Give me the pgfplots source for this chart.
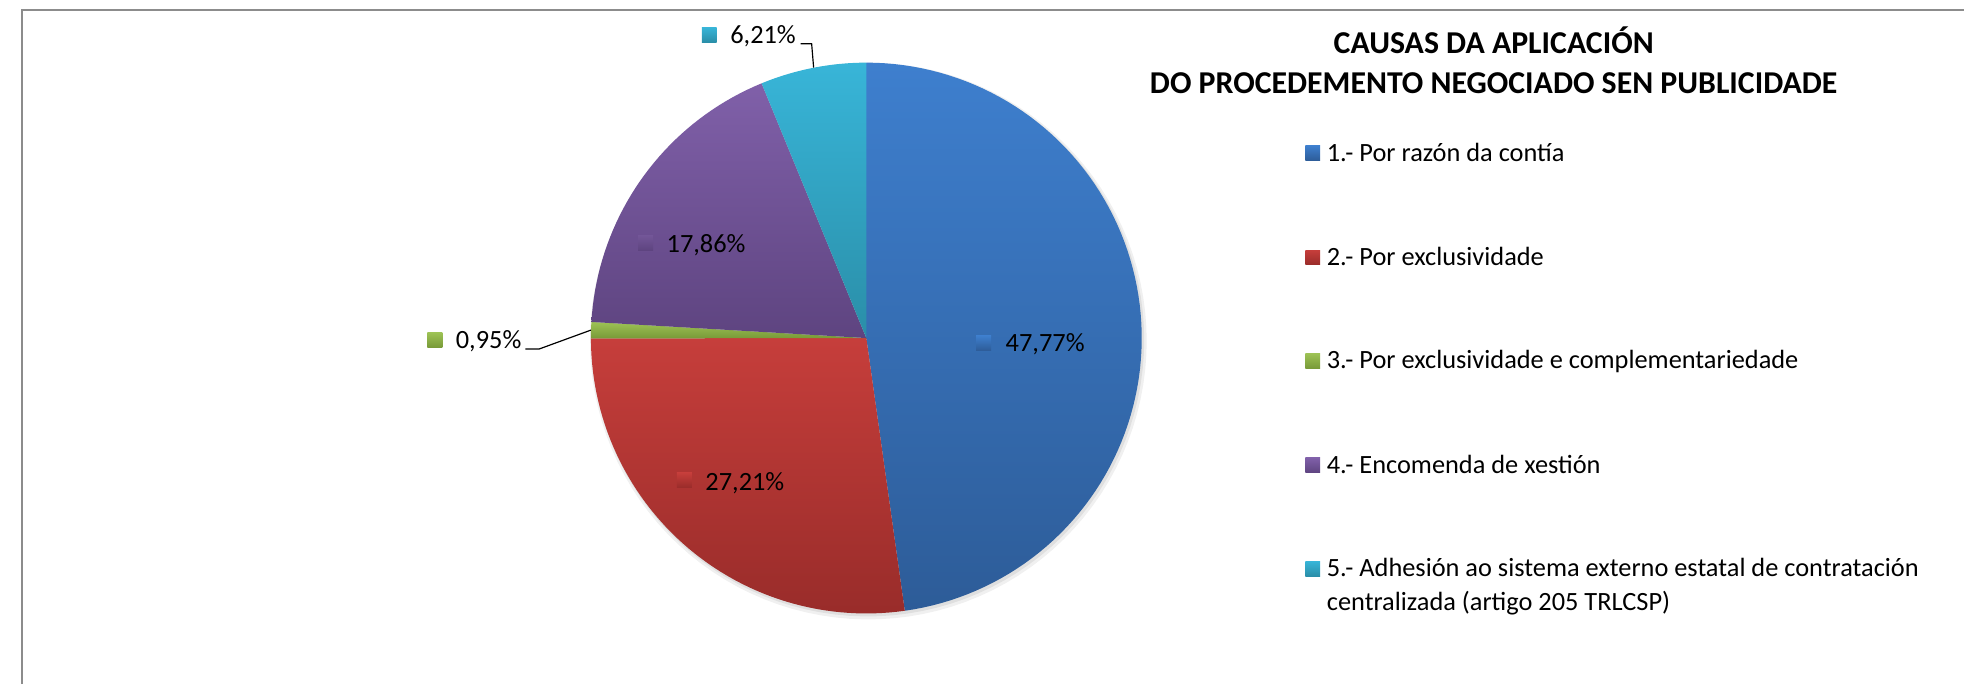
\documentclass[border=0pt]{standalone}
\usepackage{fontspec}
\setmainfont{Carlito}
\usepackage{pgfplots}
\usepackage{pgfplotstable}
\pgfplotsset{compat=1.18}

\definecolor{bluetop}{HTML}{3E7FCE}
\definecolor{bluebot}{HTML}{2D5C98}
\definecolor{redtop}{HTML}{C63E3B}
\definecolor{redbot}{HTML}{992C2A}
\definecolor{greentop}{HTML}{9DC255}
\definecolor{greenbot}{HTML}{789A38}
\definecolor{purptop}{HTML}{8060A9}
\definecolor{purpbot}{HTML}{5E4480}
\definecolor{cyantop}{HTML}{38B5D8}
\definecolor{cyanbot}{HTML}{2A8EA8}
\definecolor{framegray}{HTML}{8C8C8C}

\tikzset{
  lbl/.style={anchor=base west, inner sep=0, font=\fontsize{26.5}{31}\selectfont},
  key/.style={minimum size=15pt, inner sep=0},
  ttl/.style={anchor=base, inner sep=0, font=\fontsize{32}{38}\selectfont\bfseries},
}

% share of each cause, in percent
\pgfplotstableread{
slice pct
1 47.77
2 27.21
3 0.95
4 17.86
5 6.21
}\piedata

\begin{document}
\pgfplotstablegetelem{0}{pct}\of\piedata \let\pA\pgfplotsretval
\pgfplotstablegetelem{1}{pct}\of\piedata \let\pB\pgfplotsretval
\pgfplotstablegetelem{2}{pct}\of\piedata \let\pC\pgfplotsretval
\pgfplotstablegetelem{3}{pct}\of\piedata \let\pD\pgfplotsretval
% slices run clockwise from the top
\pgfmathsetmacro\aA{90-3.6*\pA}
\pgfmathsetmacro\aB{\aA-3.6*\pB}
\pgfmathsetmacro\aC{\aB-3.6*\pC}
\pgfmathsetmacro\aD{\aC-3.6*\pD}
\def\cx{860}\def\cy{348}\def\rr{277}

\begin{tikzpicture}
\begin{axis}[
    width=1964pt, height=688pt,
    scale only axis,
    xmin=0, xmax=1964, ymin=0, ymax=688,
    hide axis,
    clip=false,
]
\coordinate (bbSW) at (axis cs:0,0);
\coordinate (bbNE) at (axis cs:1964,688);
% frame
\draw[framegray, line width=2.5pt] (axis cs:11,0) -- (axis cs:11,678) -- (axis cs:1964,678);

% soft shadow under the pie
\addplot[draw=none, fill=black, fill opacity=0.06, domain=0:360, samples=120, variable=\t]
    ({\cx+2+(\rr+3)*cos(\t)},{\cy-3+(\rr+3)*sin(\t)}) -- cycle;
\addplot[draw=none, fill=black, fill opacity=0.07, domain=0:360, samples=120, variable=\t]
    ({\cx+1.5+(\rr+1)*cos(\t)},{\cy-2+(\rr+1)*sin(\t)}) -- cycle;

% slices
\addplot[draw=none, top color=bluetop, bottom color=bluebot, domain=\aA:90, samples=90, variable=\t]
    ({\cx+\rr*cos(\t)},{\cy+\rr*sin(\t)}) -- (axis cs:\cx,\cy) -- cycle;
\addplot[draw=none, top color=redtop, bottom color=redbot, domain=\aB:\aA, samples=60, variable=\t]
    ({\cx+\rr*cos(\t)},{\cy+\rr*sin(\t)}) -- (axis cs:\cx,\cy) -- cycle;
\addplot[draw=none, top color=greentop, bottom color=greenbot, domain=\aC:\aB, samples=8, variable=\t]
    ({\cx+\rr*cos(\t)},{\cy+\rr*sin(\t)}) -- (axis cs:\cx,\cy) -- cycle;
\addplot[draw=none, top color=purptop, bottom color=purpbot, domain=\aD:\aC, samples=40, variable=\t]
    ({\cx+\rr*cos(\t)},{\cy+\rr*sin(\t)}) -- (axis cs:\cx,\cy) -- cycle;
\addplot[draw=none, top color=cyantop, bottom color=cyanbot, domain=-270:\aD, samples=20, variable=\t]
    ({\cx+\rr*cos(\t)},{\cy+\rr*sin(\t)}) -- (axis cs:\cx,\cy) -- cycle;

% leader lines
\draw[black, line width=1.2pt] (axis cs:794,644) -- (axis cs:805,644) -- (axis cs:807,620);
\draw[black, line width=1.2pt] (axis cs:517,337) -- (axis cs:531,337) -- (axis cs:583,356);

% data labels
\node[key, top color=cyantop, bottom color=cyanbot] at (axis cs:702,653) {};
\node[lbl] at (axis cs:723,644) {6,21\%};
\node[key, top color=greentop, bottom color=greenbot] at (axis cs:426,346) {};
\node[lbl] at (axis cs:447,337) {0,95\%};
\node[key, top color=purptop!90!black, bottom color=purpbot] at (axis cs:638,444) {};
\node[lbl] at (axis cs:659,434) {17,86\%};
\node[key, top color=redtop, bottom color=redbot] at (axis cs:677,205) {};
\node[lbl] at (axis cs:698,195) {27,21\%};
\node[key, top color=bluetop, bottom color=bluebot] at (axis cs:978,343) {};
\node[lbl] at (axis cs:1000,334) {47,77\%};

% title
\node[ttl] at (axis cs:1491,634) {CAUSAS DA APLICACIÓN};
\node[ttl] at (axis cs:1491,594) {DO PROCEDEMENTO NEGOCIADO SEN PUBLICIDADE};

% legend
\node[key, top color=bluetop, bottom color=bluebot] at (axis cs:1309,534) {};
\node[lbl] at (axis cs:1323,526) {1.- Por razón da contía};
\node[key, top color=redtop, bottom color=redbot] at (axis cs:1309,429) {};
\node[lbl] at (axis cs:1323,421) {2.- Por exclusividade};
\node[key, top color=greentop, bottom color=greenbot] at (axis cs:1309,325) {};
\node[lbl] at (axis cs:1323,317) {3.- Por exclusividade e complementariedade};
\node[key, top color=purptop, bottom color=purpbot] at (axis cs:1309,220) {};
\node[lbl] at (axis cs:1323,212) {4.- Encomenda de xestión};
\node[key, top color=cyantop, bottom color=cyanbot] at (axis cs:1309,116) {};
\node[lbl] at (axis cs:1323,108) {5.- Adhesión ao sistema externo estatal de contratación};
\node[lbl] at (axis cs:1323,74) {centralizada (artigo 205 TRLCSP)};
\end{axis}
\pgfresetboundingbox
\path[use as bounding box] (bbSW) rectangle (bbNE);
\end{tikzpicture}
\end{document}
